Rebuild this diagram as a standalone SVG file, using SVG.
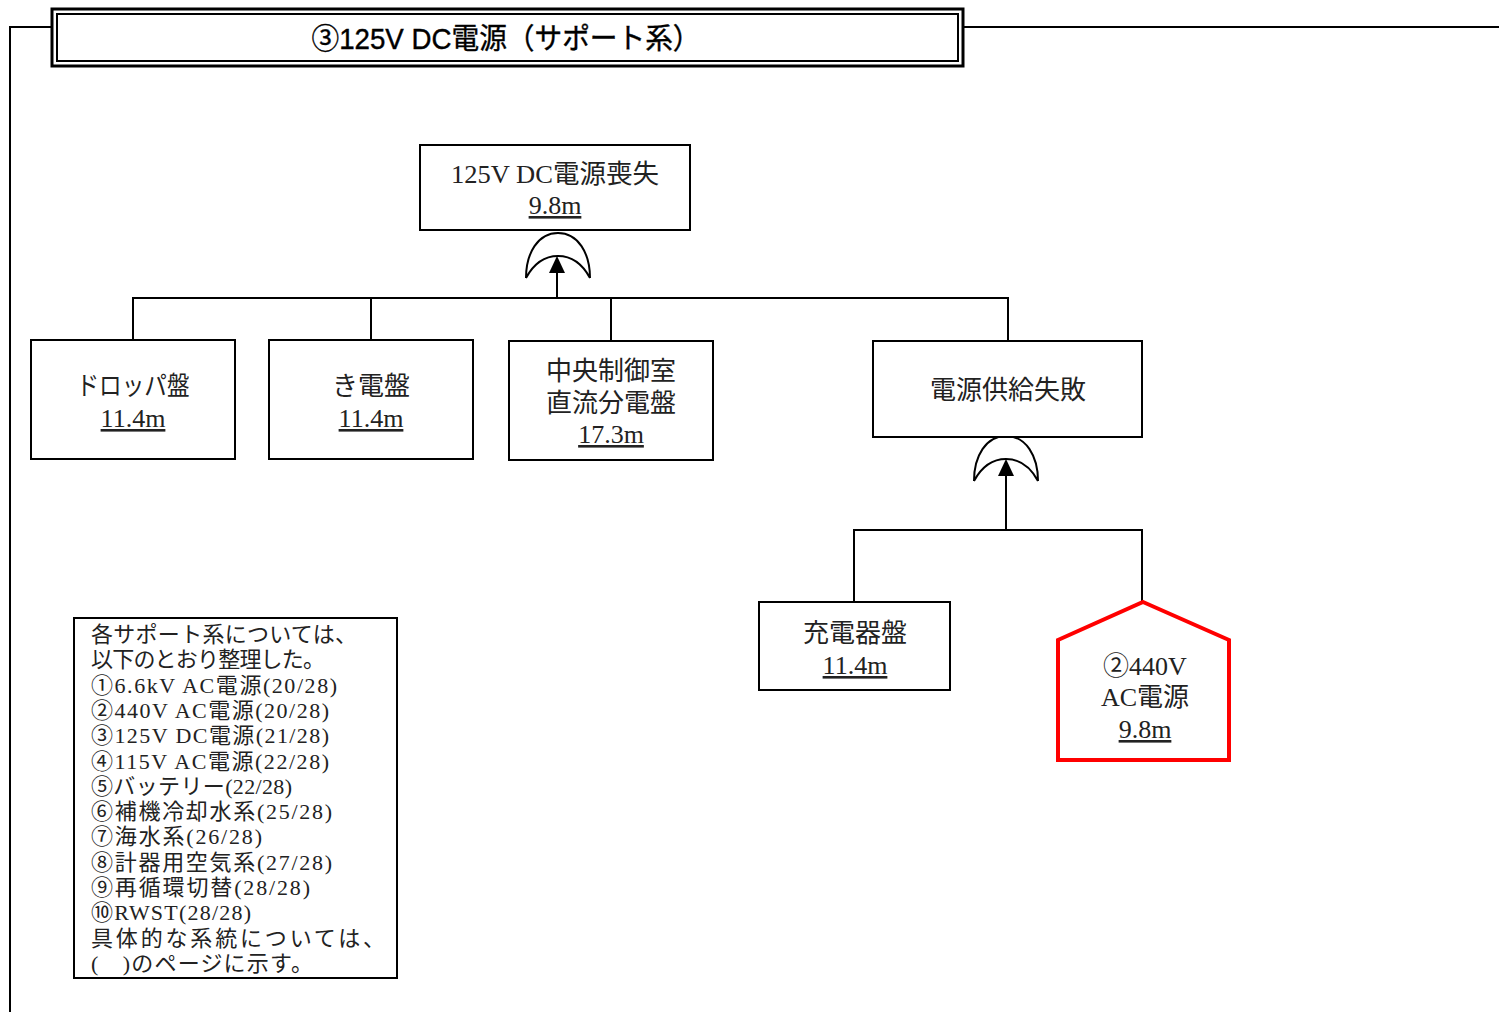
<svg xmlns="http://www.w3.org/2000/svg" width="1499" height="1012" viewBox="0 0 1499 1012">
<style>
.box{fill:#fff;stroke:#000;stroke-width:2}
.ln{fill:none;stroke:#000;stroke-width:2}
.gate{fill:none;stroke:#000;stroke-width:2}
.t{font-family:"Liberation Serif","Noto Sans CJK JP",serif;font-size:26px;fill:#222;text-anchor:middle}
.u{text-decoration:underline}
.note{font-family:"Liberation Serif","Noto Sans CJK JP",serif;font-size:22px;fill:#222}
.title{font-family:"Liberation Sans","Noto Sans CJK JP",sans-serif;font-size:29px;fill:#000;text-anchor:middle;stroke:#000;stroke-width:0.4}
</style>
<defs>
<g id="orgate">
<path d="M-32,45 C-32,20 -20,0 0,0 C20,0 32,20 32,45 M-32,45 C-25,32 -14,23 0,23 C14,23 25,32 32,45" class="gate"/>
</g>
<path id="ah" d="M0,0 L8,17 L-8,17 Z" fill="#000"/>
</defs>
<rect width="1499" height="1012" fill="#fff"/>
<g id="frame">
<path d="M10,1012 V27 H52 M963,27 H1499" class="ln"/>
<rect x="52" y="9" width="911" height="57" fill="#fff" stroke="#000" stroke-width="3"/>
<rect x="57" y="14" width="901" height="47" fill="none" stroke="#000" stroke-width="2"/>
<text x="506" y="49" class="title" textLength="389" lengthAdjust="spacingAndGlyphs">③125V DC電源（サポート系）</text>
</g>
<g id="connectors">
<path d="M133,340 V298 H1008 V341 M371,298 V340 M611,298 V341" class="ln"/>
<path d="M557,298 V268" class="ln"/>
<use href="#ah" x="557" y="256"/>
<path d="M854,602 V530 H1142 V602" class="ln"/>
<path d="M1006,530 V470" class="ln"/>
<use href="#ah" x="1006" y="459"/>
</g>
<g id="gate1"><use href="#orgate" x="558" y="233"/></g>
<g id="gate2"><use href="#orgate" x="1006" y="436"/></g>
<g id="top">
<rect x="420" y="145" width="270" height="85" class="box"/>
<text x="555" y="183" class="t" textLength="208" lengthAdjust="spacingAndGlyphs">125V DC電源喪失</text>
<text x="555" y="214" class="t u">9.8m</text>
</g>
<g id="dropper">
<rect x="31" y="340" width="204" height="119" class="box"/>
<text x="133" y="395" class="t" textLength="113" lengthAdjust="spacingAndGlyphs">ドロッパ盤</text>
<text x="133" y="427" class="t u">11.4m</text>
</g>
<g id="kiden">
<rect x="269" y="340" width="204" height="119" class="box"/>
<text x="371" y="395" class="t">き電盤</text>
<text x="371" y="427" class="t u">11.4m</text>
</g>
<g id="central">
<rect x="509" y="341" width="204" height="119" class="box"/>
<text x="611" y="380" class="t">中央制御室</text>
<text x="611" y="412" class="t">直流分電盤</text>
<text x="611" y="443" class="t u">17.3m</text>
</g>
<g id="supply">
<rect x="873" y="341" width="269" height="96" class="box"/>
<text x="1008" y="399" class="t">電源供給失敗</text>
</g>
<g id="charger">
<rect x="759" y="602" width="191" height="88" class="box"/>
<text x="855" y="642" class="t">充電器盤</text>
<text x="855" y="674" class="t u">11.4m</text>
</g>
<g id="ac440">
<path d="M1143,602 L1229,640 V760 H1058 V640 Z" fill="#fff" stroke="#f00" stroke-width="4"/>
<text x="1145" y="675" class="t">②440V</text>
<text x="1145" y="706" class="t">AC電源</text>
<text x="1145" y="738" class="t u">9.8m</text>
</g>
<g id="note">
<rect x="74" y="618" width="323" height="360" class="box"/>
<text class="note" lengthAdjust="spacingAndGlyphs">
<tspan x="91" y="642" textLength="266">各サポート系については、</tspan>
<tspan x="91" y="667" textLength="234">以下のとおり整理した。</tspan>
<tspan x="91" y="693" textLength="246">①6.6kV AC電源(20/28)</tspan>
<tspan x="91" y="718" textLength="238">②440V AC電源(20/28)</tspan>
<tspan x="91" y="743" textLength="238">③125V DC電源(21/28)</tspan>
<tspan x="91" y="769" textLength="238">④115V AC電源(22/28)</tspan>
<tspan x="91" y="794" textLength="201">⑤バッテリー(22/28)</tspan>
<tspan x="91" y="819" textLength="241">⑥補機冷却水系(25/28)</tspan>
<tspan x="91" y="844" textLength="171">⑦海水系(26/28)</tspan>
<tspan x="91" y="870" textLength="241">⑧計器用空気系(27/28)</tspan>
<tspan x="91" y="895" textLength="219">⑨再循環切替(28/28)</tspan>
<tspan x="91" y="920" textLength="160">⑩RWST(28/28)</tspan>
<tspan x="91" y="946" textLength="294">具体的な系統については、</tspan>
<tspan x="91" y="971" textLength="222">(　)のページに示す。</tspan>
</text>
</g>
</svg>
